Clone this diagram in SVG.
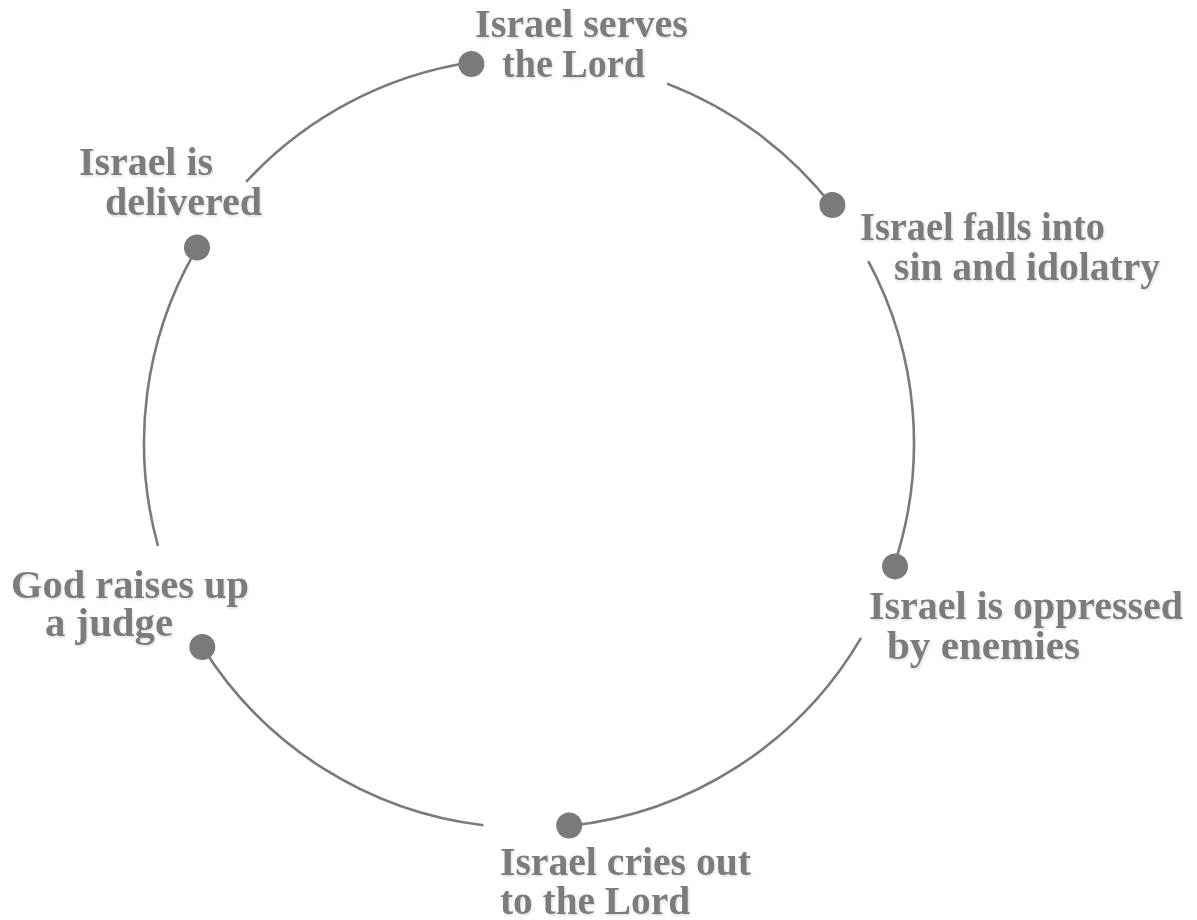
<svg xmlns="http://www.w3.org/2000/svg" width="1197" height="920" viewBox="0 0 1197 920">
  <defs>
    <filter id="sh" x="-5%" y="-20%" width="110%" height="140%">
      <feDropShadow dx="1" dy="1.5" stdDeviation="0.9" flood-color="#000" flood-opacity="0.14"/>
    </filter>
  </defs>
  <style>
    .arc { fill: none; stroke: #7a7a7a; stroke-width: 2.6; stroke-linecap: butt; }
    .dot { fill: #7a7a7a; }
    .lbl { font-family: "Liberation Serif", "Times New Roman", serif; font-weight: bold; font-size: 41px; fill: #7b7b7b; filter: url(#sh); }
  </style>
  <rect width="1197" height="920" fill="#ffffff"/>
  <g id="connectors">
    <path class="arc" d="M246.1,181.9 A385,385 0 0 1 471.4,62.3"/>
    <path class="arc" d="M667.0,83.6 A385,385 0 0 1 832.4,206.0"/>
    <path class="arc" d="M868.3,261.1 A385,385 0 0 1 893.7,566.4"/>
    <path class="arc" d="M861.1,637.8 A385,385 0 0 1 569.2,825.9"/>
    <path class="arc" d="M483.4,825.3 A385,385 0 0 1 202.6,647.3"/>
    <path class="arc" d="M158.0,545.9 A385,385 0 0 1 196.9,248.2"/>
  </g>
  <g id="node-serves">
    <circle class="dot" cx="471.4" cy="64" r="13"/>
    <text class="lbl" x="475" y="37" textLength="213" lengthAdjust="spacingAndGlyphs">Israel serves</text>
    <text class="lbl" x="502" y="77" textLength="143" lengthAdjust="spacingAndGlyphs">the Lord</text>
  </g>
  <g id="node-falls">
    <circle class="dot" cx="832.4" cy="205" r="13"/>
    <text class="lbl" x="860" y="240" textLength="245" lengthAdjust="spacingAndGlyphs">Israel falls into</text>
    <text class="lbl" x="894" y="280" textLength="266" lengthAdjust="spacingAndGlyphs">sin and idolatry</text>
  </g>
  <g id="node-oppressed">
    <circle class="dot" cx="895" cy="566.4" r="13"/>
    <text class="lbl" x="869" y="619" textLength="314" lengthAdjust="spacingAndGlyphs">Israel is oppressed</text>
    <text class="lbl" x="887" y="659" textLength="193" lengthAdjust="spacingAndGlyphs">by enemies</text>
  </g>
  <g id="node-cries">
    <circle class="dot" cx="569.2" cy="825.5" r="13"/>
    <text class="lbl" x="500" y="875" textLength="251" lengthAdjust="spacingAndGlyphs">Israel cries out</text>
    <text class="lbl" x="500" y="914" textLength="190" lengthAdjust="spacingAndGlyphs">to the Lord</text>
  </g>
  <g id="node-judge">
    <circle class="dot" cx="202.3" cy="647" r="13"/>
    <text class="lbl" x="11" y="598" textLength="238" lengthAdjust="spacingAndGlyphs">God raises up</text>
    <text class="lbl" x="45" y="636" textLength="128" lengthAdjust="spacingAndGlyphs">a judge</text>
  </g>
  <g id="node-delivered">
    <circle class="dot" cx="197" cy="247.5" r="13"/>
    <text class="lbl" x="79" y="175" textLength="134" lengthAdjust="spacingAndGlyphs">Israel is</text>
    <text class="lbl" x="105" y="215" textLength="157" lengthAdjust="spacingAndGlyphs">delivered</text>
  </g>
</svg>
